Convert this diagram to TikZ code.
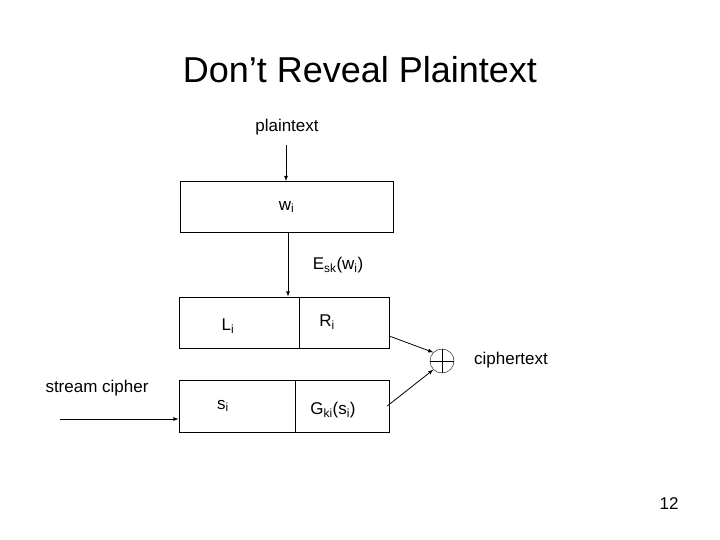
\documentclass[tikz,border=0pt]{standalone}
\usepackage{fontspec}
\setmainfont{Liberation Sans}
\usetikzlibrary{arrows}
\usetikzlibrary{positioning}
\begin{document}
\begin{tikzpicture}[x=1pt,y=-1pt,>=latex,
  every node/.style={font=\fontsize{17}{19}\selectfont},
  blk/.style={draw,thick,minimum height=51pt,inner sep=0pt},
  flow/.style={->,thick}]
  \useasboundingbox (0,0) rectangle (720,540);
  \node[font=\fontsize{36}{40}\selectfont] (title) at (360,70) {Don’t Reveal Plaintext};
  \node (plain) at (287,127) {plaintext};
  \node[blk,minimum width=213pt] (w) at (286.5,207) {w\textsubscript{i}};
  \node (esk) at (338,265) {E\textsubscript{sk}(w\textsubscript{i})};
  \node[blk,minimum width=120pt] (L) at (239,322.5) {};
  \node[blk,minimum width=90pt,right=0pt of L] (R) {};
  \node at (228,326) {L\textsubscript{i}};
  \node at (327,322) {R\textsubscript{i}};
  \node[blk,minimum width=116pt,minimum height=52pt] (s) at (237,406) {};
  \node[blk,minimum width=94pt,minimum height=52pt,right=0pt of s] (G) {};
  \node at (223,406) {s\textsubscript{i}};
  \node at (333,410) {G\textsubscript{ki}(s\textsubscript{i})};
  \node[draw,circle,minimum size=24pt,inner sep=0pt] (xor) at (442,361) {};
  \draw (xor.north)--(xor.south) (xor.west)--(xor.east);
  \node (ct) at (511,360) {ciphertext};
  \node (sc) at (97,388) {stream cipher};
  \node (num) at (669,504) {12};
  \coordinate (in) at (60,419);
  \coordinate (top) at (286,145);
  \draw[flow] (top) -- (w.north -| top);
  \draw[flow] (w.south -| 288,0) -- (L.north -| 288,0);
  \draw[flow] (R.south east) ++(0,-12) coordinate (ro) -- (xor.north west);
  \draw[flow] (G.east) ++(-3,0) coordinate (go) -- (xor.south west);
  \draw[flow] (in) -- (s.west |- in);
\end{tikzpicture}
\end{document}
